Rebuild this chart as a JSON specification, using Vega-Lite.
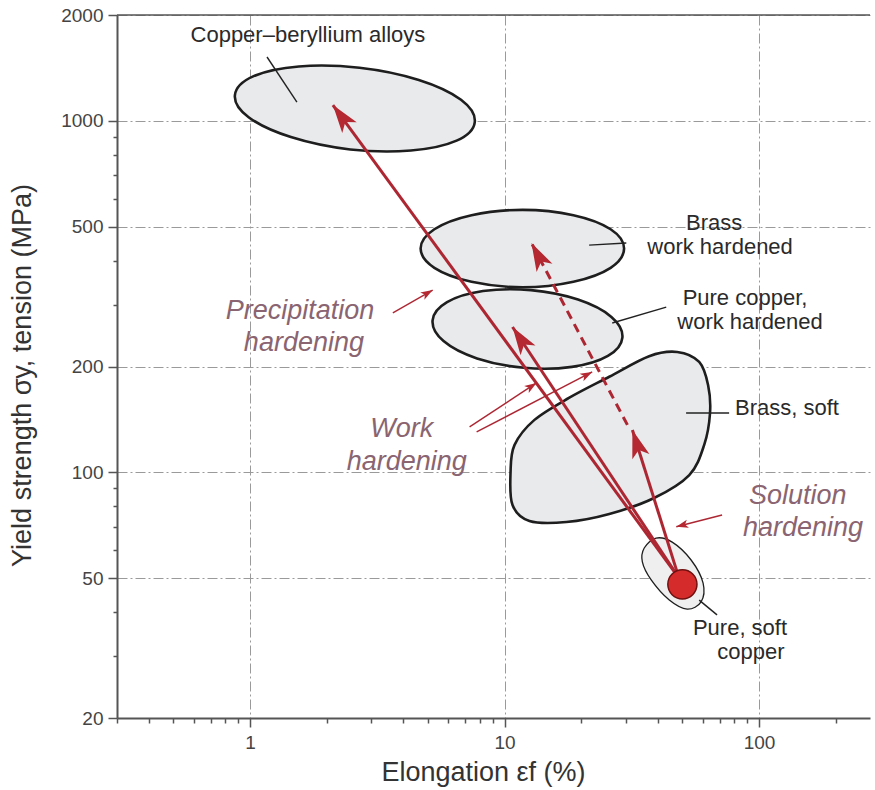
{
  "$schema": "https://vega.github.io/schema/vega-lite/v6.json",
  "width": 753,
  "height": 703,
  "autosize": {"type": "none"},
  "padding": {"left": 117, "top": 15, "right": 5, "bottom": 72},
  "background": "white",
  "config": {"view": {"stroke": null}, "font": "Liberation Sans"},
  "datasets": {
    "shapes": [
      {"shape": "cube", "order": 1, "x": 7.64, "y": 992},
      {"shape": "cube", "order": 2, "x": 6.48, "y": 878},
      {"shape": "cube", "order": 3, "x": 4.287, "y": 823},
      {"shape": "cube", "order": 4, "x": 2.476, "y": 829},
      {"shape": "cube", "order": 5, "x": 1.447, "y": 899},
      {"shape": "cube", "order": 6, "x": 0.987, "y": 1024},
      {"shape": "cube", "order": 7, "x": 0.872, "y": 1184},
      {"shape": "cube", "order": 8, "x": 1.028, "y": 1338},
      {"shape": "cube", "order": 9, "x": 1.555, "y": 1428},
      {"shape": "cube", "order": 10, "x": 2.691, "y": 1416},
      {"shape": "cube", "order": 11, "x": 4.604, "y": 1307},
      {"shape": "cube", "order": 12, "x": 6.745, "y": 1148},
      {"shape": "brasswh", "order": 1, "x": 29.5, "y": 433.3},
      {"shape": "brasswh", "order": 2, "x": 26.12, "y": 381.8},
      {"shape": "brasswh", "order": 3, "x": 18.65, "y": 348.4},
      {"shape": "brasswh", "order": 4, "x": 11.77, "y": 336},
      {"shape": "brasswh", "order": 5, "x": 7.42, "y": 348.4},
      {"shape": "brasswh", "order": 6, "x": 5.3, "y": 381.8},
      {"shape": "brasswh", "order": 7, "x": 4.68, "y": 433.3},
      {"shape": "brasswh", "order": 8, "x": 5.3, "y": 491.5},
      {"shape": "brasswh", "order": 9, "x": 7.42, "y": 538.9},
      {"shape": "brasswh", "order": 10, "x": 11.77, "y": 558},
      {"shape": "brasswh", "order": 11, "x": 18.65, "y": 538.9},
      {"shape": "brasswh", "order": 12, "x": 26.12, "y": 491.5},
      {"shape": "cuwh", "order": 1, "x": 29.05, "y": 241.8},
      {"shape": "cuwh", "order": 2, "x": 25.48, "y": 214.4},
      {"shape": "cuwh", "order": 3, "x": 18.41, "y": 199.5},
      {"shape": "cuwh", "order": 4, "x": 11.93, "y": 198.3},
      {"shape": "cuwh", "order": 5, "x": 7.795, "y": 210.8},
      {"shape": "cuwh", "order": 6, "x": 5.759, "y": 236.2},
      {"shape": "cuwh", "order": 7, "x": 5.215, "y": 270.4},
      {"shape": "cuwh", "order": 8, "x": 5.944, "y": 304.8},
      {"shape": "cuwh", "order": 9, "x": 8.229, "y": 327.8},
      {"shape": "cuwh", "order": 10, "x": 12.7, "y": 329.8},
      {"shape": "cuwh", "order": 11, "x": 19.44, "y": 310.0},
      {"shape": "cuwh", "order": 12, "x": 26.3, "y": 276.8},
      {"shape": "brasssoft", "order": 1, "x": 10.56, "y": 100.2},
      {"shape": "brasssoft", "order": 2, "x": 10.95, "y": 119.7},
      {"shape": "brasssoft", "order": 3, "x": 13.11, "y": 141},
      {"shape": "brasssoft", "order": 4, "x": 17.98, "y": 163},
      {"shape": "brasssoft", "order": 5, "x": 25.8, "y": 187},
      {"shape": "brasssoft", "order": 6, "x": 37.0, "y": 214},
      {"shape": "brasssoft", "order": 7, "x": 47.7, "y": 220},
      {"shape": "brasssoft", "order": 8, "x": 58.2, "y": 206},
      {"shape": "brasssoft", "order": 9, "x": 63.1, "y": 177},
      {"shape": "brasssoft", "order": 10, "x": 64.2, "y": 147.5},
      {"shape": "brasssoft", "order": 11, "x": 60.9, "y": 119.7},
      {"shape": "brasssoft", "order": 12, "x": 53.2, "y": 98.2},
      {"shape": "brasssoft", "order": 13, "x": 38.7, "y": 84.5},
      {"shape": "brasssoft", "order": 14, "x": 25.8, "y": 76.1},
      {"shape": "brasssoft", "order": 15, "x": 17.5, "y": 72.2},
      {"shape": "brasssoft", "order": 16, "x": 12.53, "y": 72.7},
      {"shape": "brasssoft", "order": 17, "x": 10.75, "y": 80.7},
      {"shape": "cusoft", "order": 1, "x": 35.4, "y": 60.9},
      {"shape": "cusoft", "order": 2, "x": 39.4, "y": 65.0},
      {"shape": "cusoft", "order": 3, "x": 45.6, "y": 63.3},
      {"shape": "cusoft", "order": 4, "x": 54.1, "y": 56.3},
      {"shape": "cusoft", "order": 5, "x": 60.3, "y": 48.4},
      {"shape": "cusoft", "order": 6, "x": 59.2, "y": 42.8},
      {"shape": "cusoft", "order": 7, "x": 52.2, "y": 40.8},
      {"shape": "cusoft", "order": 8, "x": 44.4, "y": 43.3},
      {"shape": "cusoft", "order": 9, "x": 37.7, "y": 49.4},
      {"shape": "cusoft", "order": 10, "x": 34.8, "y": 55.6}
    ],
    "arrows": [
      {"kind": "main", "x": 48.5, "y": 50, "x2": 2.116, "y2": 1109, "heading": 323.7},
      {"kind": "main", "x": 48.5, "y": 50, "x2": 10.75, "y2": 259, "heading": 326.4},
      {"kind": "main", "x": 48.5, "y": 50, "x2": 31.8, "y2": 132, "heading": 342.4},
      {"kind": "dashed", "x": 30.4, "y": 136.4, "x2": 12.76, "y2": 449, "heading": 332.2},
      {"kind": "pointer", "x": 3.64, "y": 284, "x2": 5.22, "y2": 330, "heading": 60.1},
      {"kind": "pointer", "x": 7.29, "y": 134.6, "x2": 13.35, "y2": 179.6, "heading": 56.7},
      {"kind": "pointer", "x": 7.77, "y": 130.3, "x2": 22.1, "y2": 193, "heading": 62.6},
      {"kind": "pointer", "x": 71.6, "y": 75.6, "x2": 47.3, "y2": 70.0, "heading": 255.4}
    ],
    "leaders": [
      {"x": 1.166, "y": 1519, "x2": 1.528, "y2": 1131},
      {"x": 21.5, "y": 443, "x2": 30.1, "y2": 449},
      {"x": 26.5, "y": 266, "x2": 43.2, "y2": 295},
      {"x": 51.7, "y": 147.5, "x2": 76.3, "y2": 147.5},
      {"x": 58.2, "y": 43.3, "x2": 68.4, "y2": 39.3}
    ],
    "dot": [{"x": 50, "y": 48}],
    "frame": [{"y": 2000}],
    "labels": [
      {"kind": "plain", "text": "Copper–beryllium alloys", "x": 1.688, "y": 1754},
      {"kind": "plain", "text": "Brass", "x": 66.6, "y": 512},
      {"kind": "plain", "text": "work hardened", "x": 70.3, "y": 437.5},
      {"kind": "plain", "text": "Pure copper,", "x": 88.1, "y": 313},
      {"kind": "plain", "text": "work hardened", "x": 92.2, "y": 267.8},
      {"kind": "plain", "text": "Brass, soft", "x": 128.8, "y": 152.4},
      {"kind": "plain", "text": "Pure, soft", "x": 84.2, "y": 36.1},
      {"kind": "plain", "text": "copper", "x": 93.0, "y": 30.8},
      {"kind": "italic", "text": "Precipitation", "x": 1.571, "y": 288},
      {"kind": "italic", "text": "hardening", "x": 1.628, "y": 233},
      {"kind": "italic", "text": "Work", "x": 3.945, "y": 132.8},
      {"kind": "italic", "text": "hardening", "x": 4.13, "y": 107},
      {"kind": "italic", "text": "Solution", "x": 142, "y": 85.9},
      {"kind": "italic", "text": "hardening", "x": 148.8, "y": 69.4}
    ]
  },
  "layer": [
    {
      "data": {"name": "frame"},
      "mark": {"type": "rule", "color": "#555555", "strokeWidth": 1.5},
      "encoding": {
        "y": {
          "field": "y",
          "type": "quantitative",
          "scale": {"type": "log", "domain": [20, 2000]},
          "axis": {
            "title": "Yield strength σy, tension (MPa)",
            "titleFontSize": 27,
            "titleFontWeight": "normal",
            "titleColor": "#333333",
            "titleX": -95,
            "titleY": 360,
            "titleAlign": "center",
            "titleBaseline": "middle",
            "titleAngle": 270,
            "values": [20, 30, 40, 50, 60, 70, 80, 90, 100, 200, 300, 400, 500, 600, 700, 800, 900, 1000, 2000],
            "labelExpr": "indexof([20, 50, 100, 200, 500, 1000, 2000], datum.value) >= 0 ? format(datum.value, 'd') : ''",
            "labelFontSize": 19,
            "labelColor": "#444444",
            "labelPadding": 5,
            "labelOverlap": false,
            "labelFlush": false,
            "tickSize": {"condition": {"test": "indexof([20, 50, 100, 200, 500, 1000, 2000], datum.value) >= 0", "value": 9}, "value": 4},
            "tickColor": "#555555",
            "tickWidth": 1.5,
            "domainColor": "#555555",
            "domainWidth": 2,
            "grid": true,
            "gridOpacity": {"condition": {"test": "indexof([50, 100, 200, 500, 1000, 2000], datum.value) >= 0", "value": 1}, "value": 0},
            "gridColor": "#9a9a9a",
            "gridDash": [10, 3, 2, 3],
            "gridWidth": 1
          }
        }
      }
    },
    {
      "data": {"name": "shapes"},
      "transform": [{"filter": "datum.shape !== 'cusoft'"}],
      "mark": {"type": "line", "interpolate": "cardinal-closed", "fill": "#e8eaec", "stroke": "#1e1e1e", "strokeWidth": 2.6},
      "encoding": {
        "x": {
          "field": "x",
          "type": "quantitative",
          "scale": {"type": "log", "domain": [0.3, 273]},
          "axis": {
            "title": "Elongation εf (%)",
            "titleFontSize": 27,
            "titleFontWeight": "normal",
            "titleColor": "#333333",
            "titleX": 366,
            "titleY": 54,
            "titleAlign": "center",
            "titleBaseline": "middle",
            "values": [0.3, 0.4, 0.5, 0.6, 0.7, 0.8, 0.9, 1, 2, 3, 4, 5, 6, 7, 8, 9, 10, 20, 30, 40, 50, 60, 70, 80, 90, 100, 200],
            "labelExpr": "(datum.value === 1 || datum.value === 10 || datum.value === 100) ? format(datum.value, 'd') : ''",
            "labelFontSize": 19,
            "labelColor": "#444444",
            "labelPadding": 6,
            "labelOverlap": false,
            "labelFlush": false,
            "tickSize": {"condition": {"test": "datum.value === 1 || datum.value === 10 || datum.value === 100", "value": 9}, "value": 5},
            "tickColor": "#555555",
            "tickWidth": 1.5,
            "domainColor": "#555555",
            "domainWidth": 2,
            "grid": true,
            "gridOpacity": {"condition": {"test": "datum.value === 1 || datum.value === 10 || datum.value === 100", "value": 1}, "value": 0},
            "gridColor": "#9a9a9a",
            "gridDash": [10, 3, 2, 3],
            "gridWidth": 1
          }
        },
        "y": {"field": "y", "type": "quantitative", "scale": {"type": "log", "domain": [20, 2000]}},
        "detail": {"field": "shape"},
        "order": {"field": "order", "type": "quantitative"}
      }
    },
    {
      "data": {"name": "shapes"},
      "transform": [{"filter": "datum.shape === 'cusoft'"}],
      "mark": {"type": "line", "interpolate": "cardinal-closed", "fill": "#efefef", "stroke": "#1e1e1e", "strokeWidth": 1.3},
      "encoding": {
        "x": {"field": "x", "type": "quantitative", "scale": {"type": "log", "domain": [0.3, 273]}},
        "y": {"field": "y", "type": "quantitative", "scale": {"type": "log", "domain": [20, 2000]}},
        "detail": {"field": "shape"},
        "order": {"field": "order", "type": "quantitative"}
      }
    },
    {
      "data": {"name": "leaders"},
      "mark": {"type": "rule", "color": "#222222", "strokeWidth": 1.4},
      "encoding": {
        "x": {"field": "x", "type": "quantitative", "scale": {"type": "log", "domain": [0.3, 273]}},
        "y": {"field": "y", "type": "quantitative", "scale": {"type": "log", "domain": [20, 2000]}},
        "x2": {"field": "x2"},
        "y2": {"field": "y2"}
      }
    },
    {
      "data": {"name": "arrows"},
      "transform": [{"filter": "datum.kind === 'main'"}],
      "mark": {"type": "rule", "color": "#ad2733", "strokeWidth": 3},
      "encoding": {
        "x": {"field": "x", "type": "quantitative", "scale": {"type": "log", "domain": [0.3, 273]}},
        "y": {"field": "y", "type": "quantitative", "scale": {"type": "log", "domain": [20, 2000]}},
        "x2": {"field": "x2"},
        "y2": {"field": "y2"}
      }
    },
    {
      "data": {"name": "arrows"},
      "transform": [{"filter": "datum.kind === 'dashed'"}],
      "mark": {"type": "rule", "color": "#ad2733", "strokeWidth": 3, "strokeDash": [9, 6]},
      "encoding": {
        "x": {"field": "x", "type": "quantitative", "scale": {"type": "log", "domain": [0.3, 273]}},
        "y": {"field": "y", "type": "quantitative", "scale": {"type": "log", "domain": [20, 2000]}},
        "x2": {"field": "x2"},
        "y2": {"field": "y2"}
      }
    },
    {
      "data": {"name": "arrows"},
      "transform": [{"filter": "datum.kind === 'pointer'"}],
      "mark": {"type": "rule", "color": "#ad2733", "strokeWidth": 1.4},
      "encoding": {
        "x": {"field": "x", "type": "quantitative", "scale": {"type": "log", "domain": [0.3, 273]}},
        "y": {"field": "y", "type": "quantitative", "scale": {"type": "log", "domain": [20, 2000]}},
        "x2": {"field": "x2"},
        "y2": {"field": "y2"}
      }
    },
    {
      "data": {"name": "arrows"},
      "transform": [{"filter": "datum.kind !== 'pointer'"}],
      "mark": {"type": "point", "shape": "M0,0L0.32,1L0,0.75L-0.32,1Z", "filled": true, "fill": "#b52731", "strokeWidth": 0, "size": 3136, "opacity": 1},
      "encoding": {
        "x": {"field": "x2", "type": "quantitative", "scale": {"type": "log", "domain": [0.3, 273]}},
        "y": {"field": "y2", "type": "quantitative", "scale": {"type": "log", "domain": [20, 2000]}},
        "angle": {"field": "heading", "type": "quantitative", "scale": null}
      }
    },
    {
      "data": {"name": "arrows"},
      "transform": [{"filter": "datum.kind === 'pointer'"}],
      "mark": {"type": "point", "shape": "M0,0L0.35,1L0,0.75L-0.35,1Z", "filled": true, "fill": "#b52731", "strokeWidth": 0, "size": 576, "opacity": 1},
      "encoding": {
        "x": {"field": "x2", "type": "quantitative", "scale": {"type": "log", "domain": [0.3, 273]}},
        "y": {"field": "y2", "type": "quantitative", "scale": {"type": "log", "domain": [20, 2000]}},
        "angle": {"field": "heading", "type": "quantitative", "scale": null}
      }
    },
    {
      "data": {"name": "dot"},
      "mark": {"type": "point", "shape": "circle", "filled": true, "fill": "#d52b2b", "stroke": "#701010", "strokeWidth": 1.5, "size": 850, "opacity": 1},
      "encoding": {
        "x": {"field": "x", "type": "quantitative", "scale": {"type": "log", "domain": [0.3, 273]}},
        "y": {"field": "y", "type": "quantitative", "scale": {"type": "log", "domain": [20, 2000]}}
      }
    },
    {
      "data": {"name": "labels"},
      "transform": [{"filter": "datum.kind === 'plain'"}],
      "mark": {"type": "text", "fontSize": 22, "color": "#2a2a2a", "align": "center", "baseline": "middle"},
      "encoding": {
        "x": {"field": "x", "type": "quantitative", "scale": {"type": "log", "domain": [0.3, 273]}},
        "y": {"field": "y", "type": "quantitative", "scale": {"type": "log", "domain": [20, 2000]}},
        "text": {"field": "text"}
      }
    },
    {
      "data": {"name": "labels"},
      "transform": [{"filter": "datum.kind === 'italic'"}],
      "mark": {"type": "text", "fontSize": 27, "fontStyle": "italic", "color": "#8a6470", "align": "center", "baseline": "middle"},
      "encoding": {
        "x": {"field": "x", "type": "quantitative", "scale": {"type": "log", "domain": [0.3, 273]}},
        "y": {"field": "y", "type": "quantitative", "scale": {"type": "log", "domain": [20, 2000]}},
        "text": {"field": "text"}
      }
    }
  ]
}
